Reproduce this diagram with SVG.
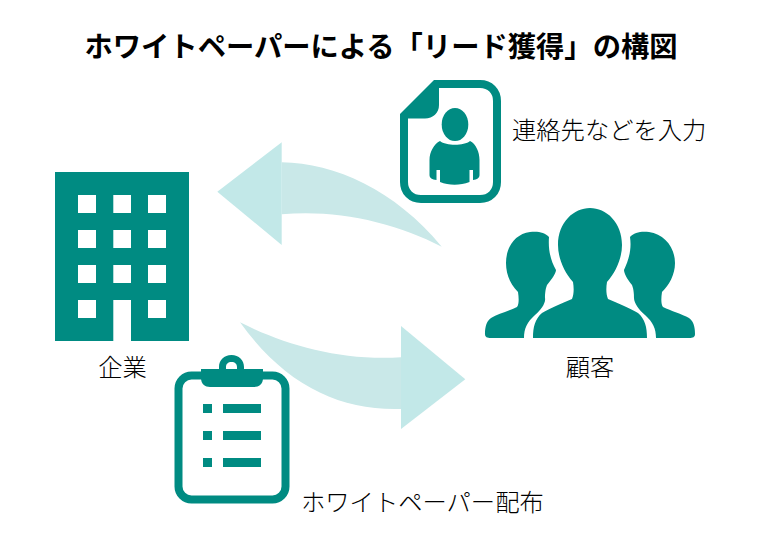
<svg xmlns="http://www.w3.org/2000/svg" width="760" height="547" viewBox="0 0 760 547">
<style>
text{font-family:"Noto Sans CJK JP","Noto Sans",sans-serif;fill:#000;font-size:24.300px;font-weight:300}
.title{font-size:28.300px;font-weight:700;fill:#000}
.t{fill:#008b82}
.head{fill:#c2e8e8}
.shaft{fill:#c9e8e8}
.line{fill:none;stroke:#008b82}
</style>
<rect width="760" height="547" fill="#fff"/>
<text class="title" x="381" y="57" text-anchor="middle">ホワイトペーパーによる「リード獲得」の構図</text>
<g id="connectors">
<path class="shaft" d="M281.7 162.3C335 163 395 190 441.7 246.7C395 222 335 209 281.7 214.3Z"/>
<path class="head" d="M217.3 191.7L281.7 142.3V245Z"/>
<path class="shaft" d="M240 322.3C285 345 340 361 401 357.3V409C340 411 285 385 240 322.3Z"/>
<path class="head" d="M465.3 379.3L401 326V429Z"/>
</g>
<g id="company">
<path class="t" fill-rule="evenodd" d="M55 172H189V341H131V300H113.3V341H55ZM78 195V213H96V195ZM113.3 195V213H131V195ZM148 195V213H166V195ZM78 230V248H96V230ZM113.3 230V248H131V230ZM148 230V248H166V230ZM78 265V283H96V265ZM113.3 265V283H131V265ZM148 265V283H166V265ZM78 300V318H96V300ZM148 300V318H166V300Z"/>
<text x="122.500" y="376" text-anchor="middle">企業</text>
</g>
<g id="customer">
<path class="t" d="M549 237C545 232 537 231 530 232C515 234 506 247 506 263C506 275 511 285 518 292C519 299 519 304 517 307C509 311 498 314 491 318C485 322 485 331 485 334C485 337 487 338 491 338H524C524 329 527 322 535 315C541 310 546 303 545 298C545 296 545 290 547 285C552 279 556 273 556 270C551 261 548 251 549 237Z"/>
<path class="t" d="M630 237C634 232 642 231 649 232C664 234 675 247 675 263C675 275 669 285 662 292C661 299 661 304 663 307C671 311 682 314 689 318C695 322 695 331 695 334C695 337 693 338 689 338H656C656 329 653 322 645 315C639 310 634 303 634 298C634 296 634 290 632 285C627 279 624 273 624 270C628 261 632 251 630 237Z"/>
<path class="t" d="M590 208C606 208 622 222 622 245C622 258 616 272 607 282C606 288 606 294 608 299C619 304 630 308 638 313C645 319 647 327 647 338H533C533 327 535 319 542 313C550 308 561 304 572 299C574 294 574 288 573 282C564 272 558 258 558 245C558 222 574 208 590 208Z"/>
<text x="590" y="376" text-anchor="middle">顧客</text>
</g>
<g id="contact-form">
<path class="line" stroke-width="8" d="M436 84H480C490 84 497 91 497 101V182C497 192 490 199 480 199H421C411 199 404 192 404 182V115"/>
<path class="t" d="M400 114L434 80H439V105C439 113 433 118.500 425 118.500H408V125H400Z"/>
<ellipse class="t" cx="455" cy="124.500" rx="13.300" ry="16.500"/>
<path class="t" d="M440 141C446 146 464 146 470 141C476 144 479.500 152 479.500 160V175C479.500 178 477 179.500 473 180V170H469.500V182C460 185.500 449 185.500 440 182V170H436.500V180C432 179.500 429.500 178 429.500 175V160C429.500 152 434 144 440 141Z"/>
<text x="512" y="139">連絡先などを入力</text>
</g>
<g id="clipboard">
<rect class="line" x="178.500" y="375.500" width="107" height="124" rx="13" stroke-width="8"/>
<path class="t" d="M201 369H263V378C263 384 259 387 254 387H210C205 387 201 384 201 378Z"/>
<path class="t" fill-rule="evenodd" d="M219 372V367C219 360 224 355 231.500 355C239 355 244 360 244 367V372ZM226 369H237V367C237 364 235 362 231.500 362C228 362 226 364 226 367Z"/>
<path class="t" d="M203 404H212V413H203ZM223 404H261V413H223ZM203 431H212V440H203ZM223 431H261V440H223ZM203 458H212V467H203ZM223 458H261V467H223Z"/>
<text x="301" y="511">ホワイトペーパー配布</text>
</g>
</svg>
